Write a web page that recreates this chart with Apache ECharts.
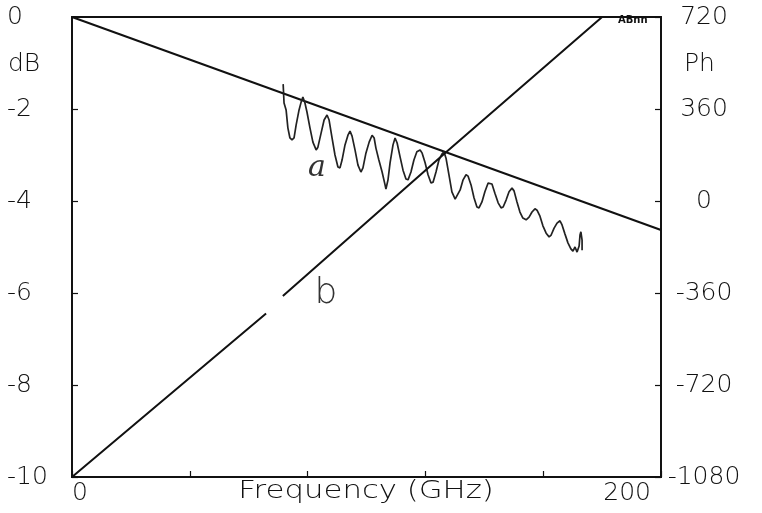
<!DOCTYPE html>
<html>
<head>
<meta charset="utf-8">
<script src="https://cdn.jsdelivr.net/npm/echarts@6/dist/echarts.min.js"></script>
<style>
  html, body { margin: 0; padding: 0; background: #fff; }
  #chart { width: 762px; height: 513px; }
</style>
</head>
<body>
<div id="chart"></div>
<script>
// Frequency axis (GHz)
const freqMin = 0, freqMax = 200, freqStep = 40;
// Left axis: attenuation (dB)
const dbMin = -10, dbMax = 0, dbStep = 2;
// Right axis: phase (degrees)
const phMin = -1080, phMax = 720, phStep = 360;

// Reference loss line (dB vs GHz)
const lossFreq = [0, 200];
const lossDb = [0, -4.63];

// Measured transmission, trace "a"
const traceFreq = [71.7, 72.0, 72.7, 73.3, 74.0, 74.7, 75.4, 76.1, 77.1, 77.8, 78.4, 79.1, 79.8, 80.8, 81.8, 82.9, 83.5, 84.6, 85.6, 86.6,
  87.3, 88.3, 89.3, 90.3, 91.0, 91.7, 92.7, 93.7, 94.4, 95.1, 96.1, 97.1, 98.1, 98.8, 99.8, 100.9, 101.9, 102.6, 103.2, 104.2,
  105.3, 106.3, 106.6, 107.3, 108.0, 109.0, 109.7, 110.4, 111.4, 112.4, 113.4, 114.1, 115.1, 116.1, 117.1, 118.2, 118.9, 119.9, 120.9, 121.9,
  122.6, 123.6, 124.6, 125.6, 126.3, 127.0, 128.0, 129.0, 130.1, 130.7, 131.8, 132.8, 133.8, 134.5, 135.5, 136.5, 137.5, 138.2, 139.2, 140.2,
  141.3, 141.9, 142.6, 143.6, 144.7, 145.7, 146.4, 147.4, 148.4, 149.4, 150.1, 151.1, 152.1, 153.1, 154.2, 155.2, 156.2, 157.2, 157.9, 158.9,
  159.9, 161.0, 162.0, 162.7, 163.7, 164.7, 165.7, 166.4, 167.4, 168.4, 169.4, 170.1, 170.8, 171.5, 172.2, 172.5, 172.8, 173.2, 173.2];
const traceDb = [-1.46, -1.87, -2.02, -2.41, -2.63, -2.67, -2.63, -2.35, -2.02, -1.85, -1.74, -1.87, -2.07, -2.41, -2.72, -2.89, -2.83, -2.52, -2.24, -2.13,
  -2.24, -2.63, -3.00, -3.26, -3.28, -3.11, -2.78, -2.57, -2.48, -2.59, -2.89, -3.22, -3.37, -3.28, -2.96, -2.72, -2.57, -2.63, -2.85, -3.11,
  -3.37, -3.65, -3.74, -3.54, -3.17, -2.78, -2.63, -2.74, -3.04, -3.33, -3.52, -3.54, -3.37, -3.11, -2.93, -2.89, -2.96, -3.17, -3.43, -3.61,
  -3.59, -3.37, -3.11, -2.98, -2.93, -3.07, -3.43, -3.80, -3.96, -3.93, -3.76, -3.54, -3.43, -3.46, -3.65, -3.93, -4.13, -4.15, -4.02, -3.80,
  -3.61, -3.57, -3.63, -3.83, -4.04, -4.15, -4.13, -3.98, -3.80, -3.72, -3.78, -4.02, -4.24, -4.37, -4.41, -4.35, -4.24, -4.17, -4.20, -4.33,
  -4.54, -4.70, -4.78, -4.74, -4.59, -4.48, -4.43, -4.52, -4.72, -4.91, -5.04, -5.09, -5.00, -5.11, -4.98, -4.74, -4.67, -4.85, -5.07];

// Phase, trace "b" (null marks the break in the line)
const phaseFreq = [0, 65.9, 68.5, 71.6, 126.7, 180];
const phaseDeg = [-1080, -440, null, -372, 188, 720];

const pairs = (xs, ys) => xs.map((x, i) => [x, ys[i] === null ? '-' : ys[i]]);

const ink = '#111';
const FONT = 'DejaVu Sans';
const labelFont = { fontFamily: FONT, fontSize: 25, fontWeight: 200, color: ink };

const chart = echarts.init(document.getElementById('chart'), null, { renderer: 'canvas' });

chart.setOption({
  animation: false,
  backgroundColor: '#fff',
  grid: { left: 72, right: 101, top: 17, bottom: 36, show: true, borderColor: ink, borderWidth: 1.8, backgroundColor: 'transparent' },
  xAxis: {
    type: 'value', min: freqMin, max: freqMax, interval: freqStep,
    axisLine: { show: true, onZero: false, lineStyle: { color: ink, width: 1.8 } },
    axisTick: { show: true, inside: true, length: 6, lineStyle: { color: ink, width: 1.2 } },
    splitLine: { show: false },
    axisLabel: Object.assign({}, labelFont, {
      margin: 4,
      showMinLabel: true, showMaxLabel: true,
      alignMinLabel: 'left', alignMaxLabel: 'right',
      formatter: v => (v === freqMin || v === freqMax) ? '{' + (v === freqMin ? 'lo' : 'hi') + '|' + v + '}' : '',
      rich: {
        lo: { fontFamily: FONT, fontSize: 25, fontWeight: 200, color: ink, padding: [0, 0, 0, 0] },
        hi: { fontFamily: FONT, fontSize: 25, fontWeight: 200, color: ink, padding: [0, 10, 0, 0] }
      }
    })
  },
  yAxis: [
    {
      type: 'value', min: dbMin, max: dbMax, interval: dbStep, position: 'left',
      axisLine: { show: true, onZero: false, lineStyle: { color: ink, width: 1.8 } },
      axisTick: { show: true, inside: true, length: 6, lineStyle: { color: ink, width: 1.2 } },
      splitLine: { show: false },
      axisLabel: Object.assign({}, labelFont, { align: 'left', margin: 65, formatter: v => String(v) })
    },
    {
      type: 'value', min: phMin, max: phMax, interval: phStep, position: 'right',
      axisLine: { show: true, onZero: false, lineStyle: { color: ink, width: 1.8 } },
      axisTick: { show: true, inside: true, length: 6, lineStyle: { color: ink, width: 1.2 } },
      splitLine: { show: false },
      axisLabel: Object.assign({}, labelFont, { align: 'center', margin: 43, formatter: v => String(v) })
    }
  ],
  series: [
    {
      name: 'loss', type: 'line', yAxisIndex: 0, symbol: 'none',
      data: pairs(lossFreq, lossDb),
      lineStyle: { color: ink, width: 2 }
    },
    {
      name: 'a', type: 'line', yAxisIndex: 0, symbol: 'none',
      data: pairs(traceFreq, traceDb),
      lineStyle: { color: '#222', width: 1.7 }
    },
    {
      name: 'b', type: 'line', yAxisIndex: 1, symbol: 'none', connectNulls: false,
      data: pairs(phaseFreq, phaseDeg),
      lineStyle: { color: ink, width: 2 }
    }
  ],
  graphic: [
    { type: 'text', left: 8, top: 52, style: { text: 'dB', font: '200 25px "DejaVu Sans"', fill: ink } },
    { type: 'text', left: 684, top: 52, style: { text: 'Ph', font: '200 25px "DejaVu Sans"', fill: ink } },
    { type: 'text', x: 366, y: 491, scaleX: 1.23, style: { text: 'Frequency (GHz)', font: '200 25px "DejaVu Sans"', fill: ink, align: 'center', verticalAlign: 'middle' } },
    { type: 'text', x: 317, y: 168, style: { text: 'a', font: 'italic 30px "DejaVu Serif"', fill: '#333', align: 'center', verticalAlign: 'middle' } },
    { type: 'text', x: 326, y: 294, style: { text: 'b', font: '200 36px "DejaVu Sans"', fill: '#333', align: 'center', verticalAlign: 'middle' } },
    { type: 'text', x: 618, y: 15, style: { text: 'ABnn', font: 'bold 10px "DejaVu Sans"', fill: ink } }
  ]
});
</script>
</body>
</html>
